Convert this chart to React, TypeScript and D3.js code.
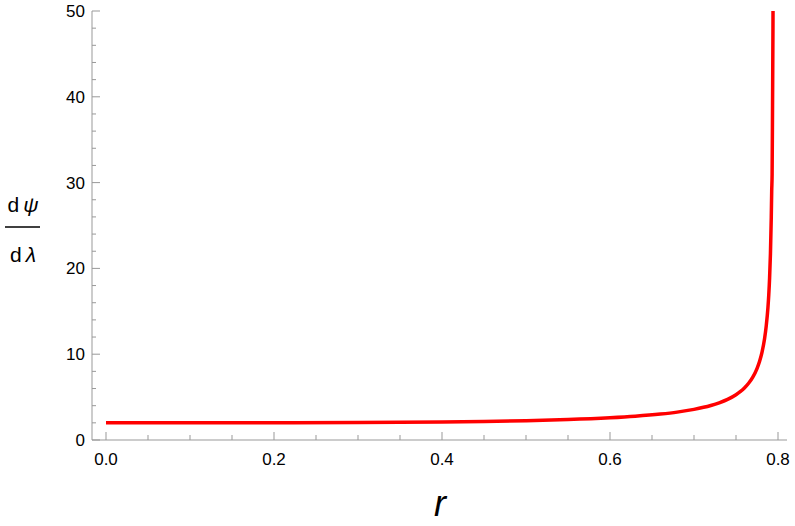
import React from "react";
import * as d3 from "d3";

const rValues = [0, 0.1, 0.2, 0.3, 0.35, 0.4, 0.45, 0.5, 0.55, 0.6, 0.63, 0.66, 0.68, 0.7, 0.72, 0.73, 0.74, 0.75, 0.755, 0.76, 0.765, 0.77, 0.775, 0.778, 0.781, 0.784, 0.786, 0.788, 0.789, 0.79, 0.791, 0.792, 0.7925, 0.793, 0.7935, 0.794, 0.7943];
const dpsiValues = [2.0, 2.0, 2.01, 2.03, 2.06, 2.1, 2.16, 2.25, 2.38, 2.59, 2.77, 3.02, 3.25, 3.57, 4.02, 4.33, 4.73, 5.27, 5.63, 6.06, 6.61, 7.33, 8.33, 9.15, 10.25, 11.8, 13.3, 15.4, 16.9, 18.9, 21.7, 26.0, 29.0, 31.0, 39.0, 48.0, 56.0];
const xTicks = [0, 0.2, 0.4, 0.6, 0.8];
const yTicks = [0, 10, 20, 30, 40, 50];

const W = 795;
const H = 526;

export default function App() {
  const x = d3.scaleLinear().domain([0, 0.8]).range([106, 778]);
  const y = d3.scaleLinear().domain([0, 50]).range([440, 11]);
  const x0 = 92;
  const x1 = 787;
  const y0 = 440;
  const yTop = 11;
  const axisColor = "#999999";
  const font = "'Liberation Sans', Arial, sans-serif";

  const pts: [number, number][] = rValues.map((r, i) => [r, dpsiValues[i]]);
  const line = d3
    .line<[number, number]>()
    .x((d) => x(d[0]))
    .y((d) => y(d[1]))
    .curve(d3.curveMonotoneX);

  const xMinor = d3.range(0, 0.8001, 0.05).filter((v) => !xTicks.some((t) => Math.abs(t - v) < 1e-6));
  const yMinor = d3.range(0, 50.001, 2).filter((v) => !yTicks.some((t) => Math.abs(t - v) < 1e-6));

  return (
    <svg width={W} height={H} style={{ position: "absolute", left: 0, top: 0, background: "#fff" }}>
      <defs>
        <clipPath id="plot">
          <rect x={x0} y={yTop} width={x1 - x0} height={y0 - yTop} />
        </clipPath>
      </defs>
      {/* axes */}
      <line x1={x0} x2={x1} y1={y0} y2={y0} stroke={axisColor} strokeWidth={1} />
      <line x1={x0} x2={x0} y1={y0} y2={yTop} stroke={axisColor} strokeWidth={1} />
      {xTicks.map((t) => (
        <g key={"xt" + t}>
          <line x1={x(t)} x2={x(t)} y1={y0} y2={y0 - 8} stroke={axisColor} />
          <text x={x(t)} y={465} textAnchor="middle" fontFamily={font} fontSize={17} fill="#000">
            {t.toFixed(1)}
          </text>
        </g>
      ))}
      {xMinor.map((t) => (
        <line key={"xm" + t} x1={x(t)} x2={x(t)} y1={y0} y2={y0 - 5} stroke={axisColor} />
      ))}
      {yTicks.map((t) => (
        <g key={"yt" + t}>
          <line x1={x0} x2={x0 + 8} y1={y(t)} y2={y(t)} stroke={axisColor} />
          <text x={85} y={y(t) + 6} textAnchor="end" fontFamily={font} fontSize={17} fill="#000">
            {t}
          </text>
        </g>
      ))}
      {yMinor.map((t) => (
        <line key={"ym" + t} x1={x0} x2={x0 + 4} y1={y(t)} y2={y(t)} stroke={axisColor} />
      ))}
      {/* curve */}
      <path d={line(pts) || ""} fill="none" stroke="#ff0000" strokeWidth={3.5} clipPath="url(#plot)" />
      {/* y label */}
      <text x={23} y={212} textAnchor="middle" fontFamily={font} fontSize={21} fill="#000">
        d<tspan dx={4} fontStyle="italic">ψ</tspan>
      </text>
      <line x1={5} x2={40} y1={227} y2={227} stroke="#000" strokeWidth={1.5} />
      <text x={23} y={262} textAnchor="middle" fontFamily={font} fontSize={21} fill="#000">
        d<tspan dx={4} fontStyle="italic">λ</tspan>
      </text>
      {/* x label */}
      <text x={440} y={516} textAnchor="middle" fontFamily={font} fontSize={36} fontStyle="italic" fill="#000">
        r
      </text>
    </svg>
  );
}
